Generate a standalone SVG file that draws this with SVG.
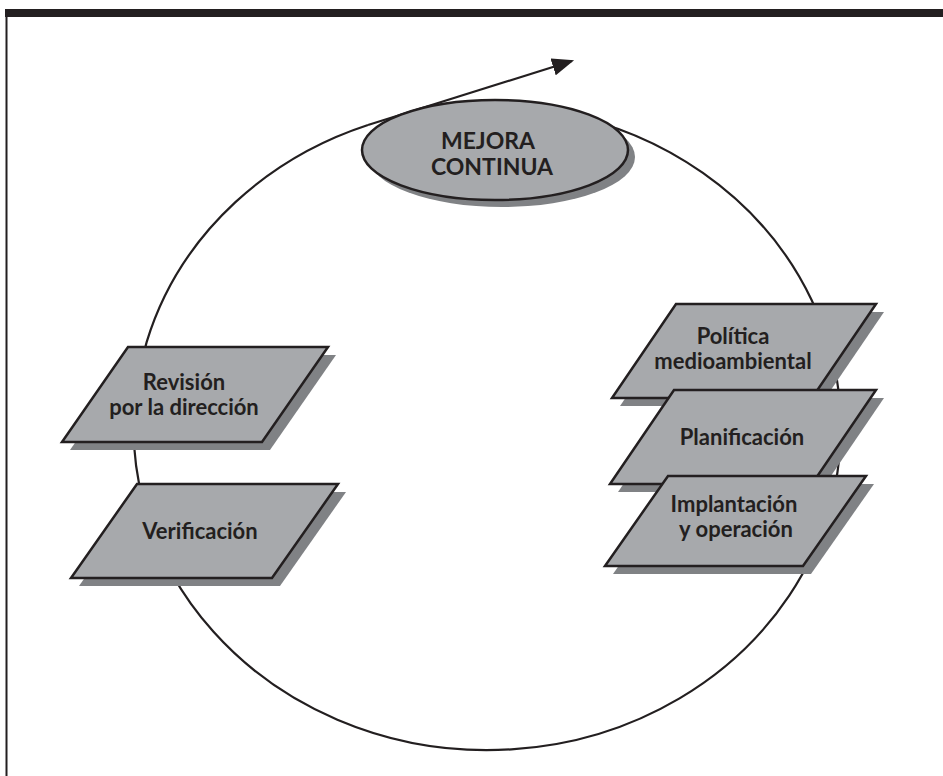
<svg xmlns="http://www.w3.org/2000/svg" width="943" height="776" viewBox="0 0 943 776">
<defs>
<style>
.sh{fill:#808285;stroke:none}
.pg{fill:#a7a9ac;stroke:#231f20;stroke-width:2.5;stroke-linejoin:miter}
.t{font-family:Lato,"Open Sans","Liberation Sans",sans-serif;font-weight:700;font-size:22px;fill:#231f20;text-anchor:middle}
.tm{font-size:23px}
.ln{fill:none;stroke:#231f20;stroke-width:2.2}
</style>
<marker id="ah" markerWidth="10" markerHeight="8" refX="9" refY="4" orient="auto" markerUnits="strokeWidth">
<path d="M0,0 L10,4 L0,8 Z" fill="#231f20"/>
</marker>
</defs>
<rect x="0" y="0" width="943" height="776" fill="#ffffff"/>
<rect x="5" y="9" width="938" height="8" fill="#231f20"/>
<line x1="6.5" y1="9" x2="6.5" y2="776" stroke="#231f20" stroke-width="2"/>
<g id="connectors">
<path class="ln" d="M560,113 A353.5,322 0 1 1 368,125"/>
<path class="ln" d="M368,125 L572,61" stroke-width="2.6" marker-end="url(#ah)"/>
</g>
<g id="mejora">
<ellipse cx="502" cy="157" rx="133" ry="50" class="sh"/>
<ellipse cx="495" cy="150" rx="133" ry="50" class="pg"/>
<text class="t tm" x="488" y="149">MEJORA</text>
<text class="t tm" x="492" y="175">CONTINUA</text>
</g>
<g id="revision">
<polygon class="sh" points="136,355 336,355 270,450 70,450"/>
<polygon class="pg" points="128,347 328,347 262,442 62,442"/>
<text class="t" x="184" y="390">Revisión</text>
<text class="t" x="184" y="415">por la dirección</text>
</g>
<g id="verificacion">
<polygon class="sh" points="145,492 346,492 280,586 79,586"/>
<polygon class="pg" points="137,484 338,484 272,578 71,578"/>
<text class="t" x="200" y="539">Verificación</text>
</g>
<g id="politica">
<polygon class="sh" points="684,312 884,312 820,406 620,406"/>
<polygon class="pg" points="676,304 876,304 812,398 612,398"/>
<text class="t" x="733" y="344">Política</text>
<text class="t" x="733" y="369">medioambiental</text>
</g>
<g id="planificacion">
<polygon class="sh" points="682,398 884,398 820,492 618,492"/>
<polygon class="pg" points="674,390 876,390 812,484 610,484"/>
<text class="t" x="742" y="445">Planificación</text>
</g>
<g id="implantacion">
<polygon class="sh" points="676,484 874,484 811,574 613,574"/>
<polygon class="pg" points="668,476 866,476 803,566 605,566"/>
<text class="t" x="734" y="512">Implantación</text>
<text class="t" x="736" y="537">y operación</text>
</g>
</svg>
